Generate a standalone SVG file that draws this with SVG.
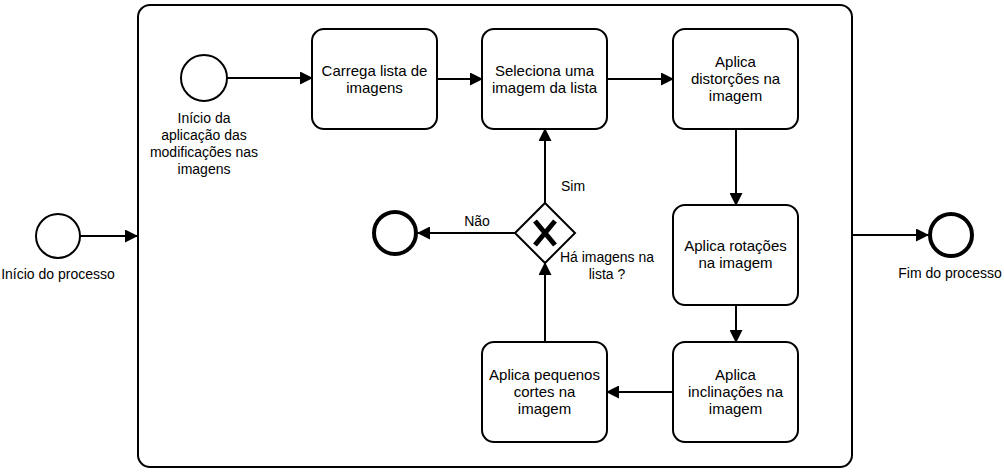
<svg xmlns="http://www.w3.org/2000/svg" width="1004" height="476" viewBox="0 0 1004 476">
<style>
text{font-family:"Liberation Sans",Arial,sans-serif;font-size:14px;fill:#000}
.t{text-anchor:middle}
.tk{font-size:15px}
.task{fill:#fff;stroke:#000;stroke-width:2}
.ev{fill:#fff;stroke:#000;stroke-width:2}
.end{fill:#fff;stroke:#000;stroke-width:4}
.c{fill:none;stroke:#000;stroke-width:2}
</style>
<defs>
<marker id="ah" markerWidth="13" markerHeight="13" viewBox="0 0 13 13" refX="12" refY="6.5" orient="auto" markerUnits="userSpaceOnUse">
<path d="M0,0 L13,6.5 L0,13 Z" fill="#000"/>
</marker>
</defs>
<rect id="pool" x="138" y="5" width="714" height="462" rx="12" ry="12" fill="#fff" stroke="#000" stroke-width="2"/>
<g id="connectors">
<path class="c" d="M80,236 L137,236" marker-end="url(#ah)"/>
<path class="c" d="M853,235 L928,235" marker-end="url(#ah)"/>
<path class="c" d="M227,78 L312,78" marker-end="url(#ah)"/>
<path class="c" d="M437,79 L482,79" marker-end="url(#ah)"/>
<path class="c" d="M607,79 L673,79" marker-end="url(#ah)"/>
<path class="c" d="M736,129 L736,205" marker-end="url(#ah)"/>
<path class="c" d="M736,305 L736,342" marker-end="url(#ah)"/>
<path class="c" d="M673,392 L607,392" marker-end="url(#ah)"/>
<path class="c" d="M545,342 L545,263" marker-end="url(#ah)"/>
<path class="c" d="M545,203 L545,129" marker-end="url(#ah)"/>
<path class="c" d="M515,233 L418,233" marker-end="url(#ah)"/>
</g>
<g id="start">
<circle class="ev" cx="58" cy="236" r="22"/>
<text class="t" x="58" y="279">Início do processo</text>
</g>
<g id="start-inner">
<circle class="ev" cx="204" cy="78" r="23"/>
<text class="t" x="204" y="123">Início da</text>
<text class="t" x="204" y="140">aplicação das</text>
<text class="t" x="204" y="157">modificações nas</text>
<text class="t" x="204" y="174">imagens</text>
</g>
<g id="carrega">
<rect class="task" x="312" y="29" width="125" height="100" rx="12"/>
<text class="t tk" x="374.5" y="76">Carrega lista de</text>
<text class="t tk" x="374.5" y="93">imagens</text>
</g>
<g id="seleciona">
<rect class="task" x="482" y="29" width="125" height="100" rx="12"/>
<text class="t tk" x="544.5" y="76">Seleciona uma</text>
<text class="t tk" x="544.5" y="93">imagem da lista</text>
</g>
<g id="distorcoes">
<rect class="task" x="673" y="29" width="125" height="100" rx="12"/>
<text class="t tk" x="735.5" y="67">Aplica</text>
<text class="t tk" x="735.5" y="84">distorções na</text>
<text class="t tk" x="735.5" y="101">imagem</text>
</g>
<g id="rotacoes">
<rect class="task" x="673" y="205" width="125" height="100" rx="12"/>
<text class="t tk" x="735.5" y="251">Aplica rotações</text>
<text class="t tk" x="735.5" y="268">na imagem</text>
</g>
<g id="inclinacoes">
<rect class="task" x="673" y="342" width="125" height="100" rx="12"/>
<text class="t tk" x="735.5" y="380">Aplica</text>
<text class="t tk" x="735.5" y="397">inclinações na</text>
<text class="t tk" x="735.5" y="414">imagem</text>
</g>
<g id="cortes">
<rect class="task" x="482" y="342" width="125" height="100" rx="12"/>
<text class="t tk" x="544.5" y="380">Aplica pequenos</text>
<text class="t tk" x="544.5" y="397">cortes na</text>
<text class="t tk" x="544.5" y="414">imagem</text>
</g>
<g id="gateway">
<path d="M545,203 L575,233 L545,263 L515,233 Z" fill="#fff" stroke="#000" stroke-width="2"/>
<path d="M535,221 L555,245 M555,221 L535,245" stroke="#000" stroke-width="5" fill="none"/>
<text class="t" x="607" y="262">Há imagens na</text>
<text class="t" x="607" y="279">lista ?</text>
<text class="t" x="573" y="191">Sim</text>
<text class="t" x="477" y="226">Não</text>
</g>
<g id="end-inner">
<circle class="end" cx="395" cy="233" r="21"/>
</g>
<g id="end">
<circle class="end" cx="951" cy="235" r="21"/>
<text class="t" x="950" y="278">Fim do processo</text>
</g>
</svg>
